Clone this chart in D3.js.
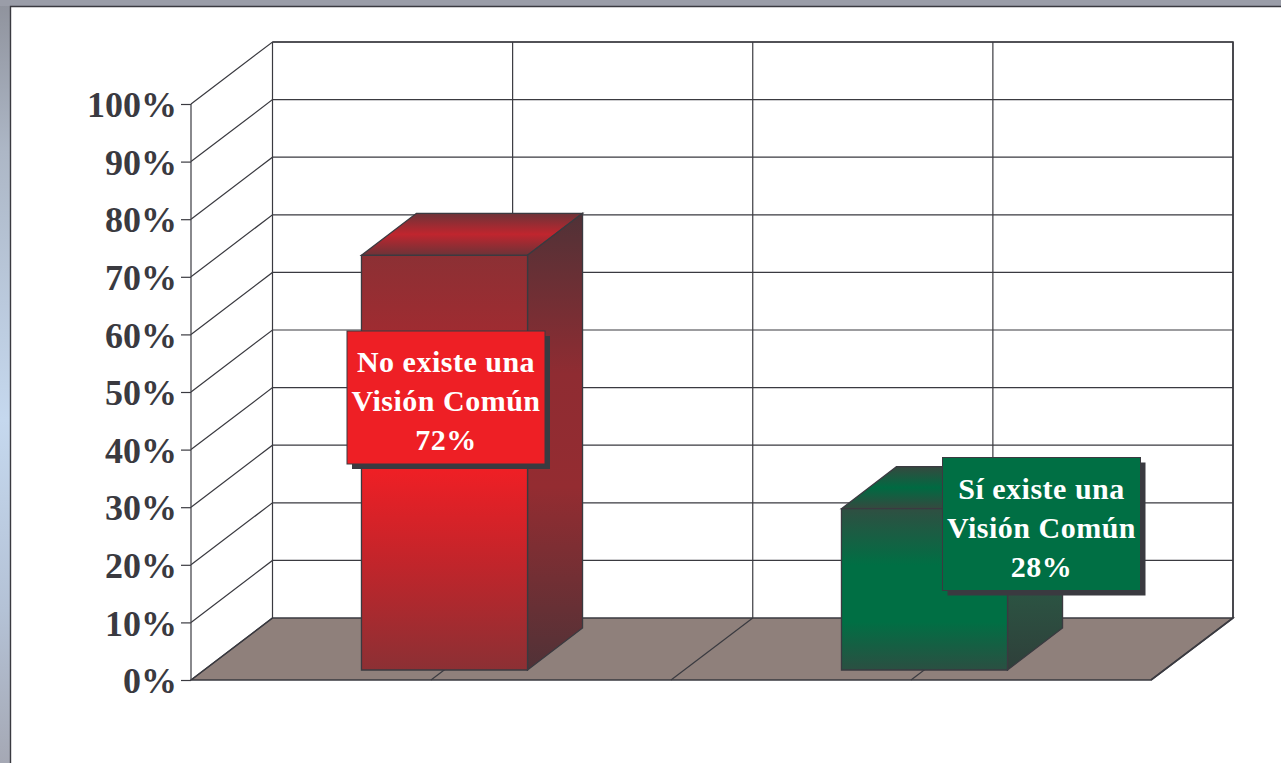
<!DOCTYPE html>
<html><head><meta charset="utf-8">
<script src="https://cdn.jsdelivr.net/npm/d3@7"></script>
<style>html,body{margin:0;padding:0;background:#fff;overflow:hidden}svg{display:block}</style>
</head><body><svg id="c" width="1281" height="763"></svg>
<script>
const categories = ["No existe una Visión Común", "Sí existe una Visión Común"];
const values = [72, 28];
const labelLines = [["No existe una", "Visión Común", "72%"], ["Sí existe una", "Visión Común", "28%"]];
const tickValues = [0, 10, 20, 30, 40, 50, 60, 70, 80, 90, 100];
const backDivisions = [0, 1, 2, 3, 4];

const svg = d3.select("#c");
const W = 1281, H = 763;
const INK = "#3a3a40";
const defs = svg.append("defs");
function grad(id, stops, x2 = 0, y2 = 1) {
  const g = defs.append("linearGradient").attr("id", id).attr("x1", 0).attr("y1", 0).attr("x2", x2).attr("y2", y2);
  stops.forEach(([o, c]) => g.append("stop").attr("offset", o).attr("stop-color", c));
}
grad("bg", [[0, "#8f929c"], [0.2, "#adb7c6"], [0.55, "#c5d8ee"], [0.8, "#b4c2d6"], [1, "#a5a8b4"]]);
grad("redFront", [[0, "#8c3034"], [0.25, "#a62a30"], [0.52, "#ee1f25"], [0.75, "#c0252b"], [1, "#8c3034"]]);
grad("redSide", [[0, "#503237"], [0.35, "#8f2c32"], [0.6, "#942c31"], [1, "#503237"]]);
grad("redTop", [[0, "#6d3338"], [0.5, "#c0252e"], [1, "#6d3338"]]);
grad("greenFront", [[0, "#2f4f42"], [0.35, "#006f44"], [0.7, "#006f44"], [1, "#2b4f42"]]);
grad("greenSide", [[0, "#2c4f42"], [0.5, "#2a5a45"], [1, "#2f3f3a"]]);
grad("greenTop", [[0, "#35493f"], [0.5, "#006a42"], [1, "#35493f"]]);

// page frame
svg.append("rect").attr("width", W).attr("height", H).attr("fill", "#fff");
svg.append("rect").attr("width", 10).attr("height", H).attr("fill", "url(#bg)");
svg.append("rect").attr("width", W).attr("height", 6).attr("fill", "#9a9da8");
svg.append("path").attr("d", `M10.5,${H}V6.5H${W}`).attr("fill", "none").attr("stroke", INK).attr("stroke-width", 1.4);

// scales
const y = d3.scaleLinear().domain([0, 100]).range([680, 104]);
const depthY = -62;
const xWall = d3.scaleLinear().domain([0, 4]).range([191, 1151]);
const xBack = d3.scaleLinear().domain([0, 4]).range([272.5, 1233]);
const x = d3.scaleBand().domain(categories).range([204.5, 1164.5]).paddingInner(0.654).paddingOuter(0.327);
const barBase = 670, barDX = 55, barDY = -42;
const yBar = d3.scaleLinear().domain([0, 100]).range([barBase, barBase - 576]);

// floor
svg.append("path")
  .attr("d", `M${xWall(0)},${y(0)}H${xWall(4)}L${xBack(4)},${y(0) + depthY}H${xBack(0)}Z`)
  .attr("fill", "#8f807b").attr("stroke", INK).attr("stroke-width", 1.4);

// back wall & side wall grid
const grid = svg.append("g").attr("fill", "none").attr("stroke", INK).attr("stroke-width", 1.2);
grid.selectAll(".h").data(tickValues.slice(1)).join("path")
  .attr("d", d => `M${xWall(0)},${y(d)}L${xBack(0)},${y(d) + depthY}H${xBack(4)}`);
grid.selectAll(".v").data(backDivisions).join("path")
  .attr("d", d => `M${xBack(d)},${y(100) + depthY}V${y(0) + depthY}`);
grid.selectAll(".f").data(backDivisions.slice(1, 4)).join("path")
  .attr("d", d => `M${xWall(d)},${y(0)}L${xBack(d)},${y(0) + depthY}`);
grid.append("path").attr("d", `M${xWall(0)},${y(100)}V${y(0)}`);
grid.append("path").attr("d", `M${xWall(0)},${y(0)}L${xBack(0)},${y(0) + depthY}`);
grid.append("path").attr("d", `M${xWall(4)},${y(0)}L${xBack(4)},${y(0) + depthY}V${y(100) + depthY}H${xBack(0)}`).attr("stroke-width", 1.6);

// y axis
const axis = d3.axisLeft(y).tickValues(tickValues).tickSize(10).tickPadding(4).tickFormat(d => d + "%");
const ax = svg.append("g").attr("transform", `translate(${xWall(0)},0)`).call(axis);
ax.select(".domain").remove();
ax.selectAll("line").attr("stroke", INK).attr("stroke-width", 1.2);
ax.selectAll("text")
  .attr("font-family", "'Liberation Serif', serif").attr("font-weight", "bold")
  .attr("font-size", 36).attr("fill", INK).attr("dy", "0.35em");

// bars
const bars = svg.selectAll(".bar").data(categories).join("g");
const kinds = ["red", "green"];
bars.each(function (c, i) {
  const g = d3.select(this), x0 = x(c), bw = x.bandwidth(), top = yBar(values[i]), k = kinds[i];
  const s = { stroke: INK, "stroke-width": 1.3 };
  const add = (d, fill) => { const p = g.append("path").attr("d", d).attr("fill", `url(#${k}${fill})`); for (const a in s) p.attr(a, s[a]); };
  add(`M${x0},${top}l${barDX},${barDY}h${bw}l${-barDX},${-barDY}Z`, "Top");
  add(`M${x0 + bw},${top}l${barDX},${barDY}V${barBase + barDY}L${x0 + bw},${barBase}Z`, "Side");
  add(`M${x0},${top}h${bw}V${barBase}H${x0}Z`, "Front");
});

// callouts
const boxes = [
  { x: 347, y: 331, w: 198, h: 133, fill: "#ee1f25" },
  { x: 942.5, y: 457.5, w: 198, h: 133, fill: "#006f44" }
];
const lab = svg.selectAll(".lab").data(boxes).join("g");
lab.each(function (b, i) {
  const g = d3.select(this);
  g.append("rect").attr("x", b.x + 5).attr("y", b.y + 5).attr("width", b.w).attr("height", b.h).attr("fill", INK);
  g.append("rect").attr("x", b.x).attr("y", b.y).attr("width", b.w).attr("height", b.h).attr("fill", b.fill).attr("stroke", INK).attr("stroke-width", 1);
  g.selectAll("text").data(labelLines[i]).join("text")
    .attr("x", b.x + b.w / 2).attr("y", (d, j) => b.y + 41 + j * 39)
    .attr("text-anchor", "middle").attr("fill", "#fff")
    .attr("font-family", "'Liberation Serif', serif").attr("font-weight", "bold")
    .attr("font-size", 30).attr("letter-spacing", 0.5).text(d => d);
});
</script></body></html>
